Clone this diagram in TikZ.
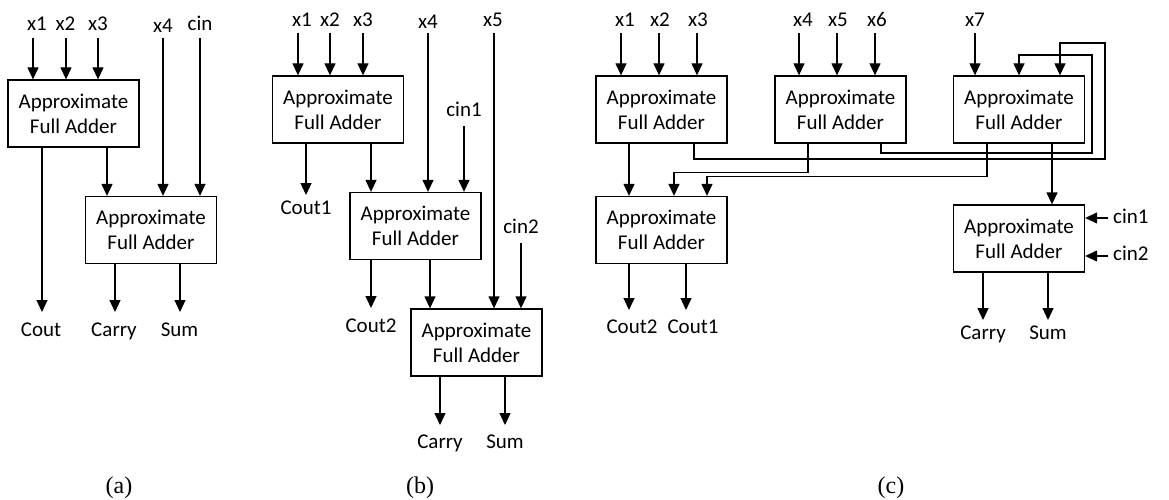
\documentclass[tikz,border=0pt]{standalone}
\usepackage{fontspec}
\setmainfont{Carlito}
\newfontfamily\capfont{Liberation Serif}
\usetikzlibrary{arrows.meta}
\begin{document}
\begin{tikzpicture}[x=1pt,y=-1pt,
  fa/.style={draw,line width=1.3pt,minimum width=131pt,minimum height=67pt,inner sep=0pt,align=center,font=\fontsize{21}{25}\selectfont},
  lbl/.style={inner sep=0pt,anchor=base,font=\fontsize{21}{25}\selectfont},
  captxt/.style={inner sep=0pt,anchor=base,font=\capfont\fontsize{24}{28}\selectfont},
  arr/.style={line width=1.3pt,-{Triangle[width=11pt,length=12pt]}}]
\path[use as bounding box] (0,0) rectangle (1169,500);

% ---------------- (a)
\node[fa] (a1) at (73.5,113.5) {Approximate\\Full Adder};
\node[fa] (a2) at (151,230) {Approximate\\Full Adder};
\node[lbl] (ax1) at (37,31) {x1};
\node[lbl] (ax2) at (65.5,31) {x2};
\node[lbl] (ax3) at (98,31) {x3};
\node[lbl] (ax4) at (163,33) {x4};
\node[lbl] (acin) at (200,31) {cin};
\coordinate (ax1s) at (33,38);
\coordinate (ax2s) at (66,38);
\coordinate (ax3s) at (98,38);
\coordinate (ax4s) at (163,38);
\coordinate (acins) at (200,38);
\foreach \s/\t in {ax1s/a1,ax2s/a1,ax3s/a1,ax4s/a2,acins/a2}
  \draw[arr] (\s) -- (\s |- \t.north);
\draw[arr] ([xshift=33.5pt]a1.south) -- ([xshift=33.5pt]a1.south |- a2.north);
\node[lbl] (acout) at (41,336) {Cout};
\node[lbl] (acarry) at (114,336) {Carry};
\node[lbl] (asum) at (179.5,336) {Sum};
\coordinate (acoutt) at (42,312);
\coordinate (acarryt) at (115,312);
\coordinate (asumt) at (180,312);
\draw[arr] (a1.south -| acoutt) -- (acoutt);
\draw[arr] (a2.south -| acarryt) -- (acarryt);
\draw[arr] (a2.south -| asumt) -- (asumt);
\node[captxt] (capa) at (119,493) {(a)};

% ---------------- (b)
\node[fa] (b1) at (338,109.5) {Approximate\\Full Adder};
\node[fa] (b2) at (415.5,226) {Approximate\\Full Adder};
\node[fa] (b3) at (476.5,342.5) {Approximate\\Full Adder};
\node[lbl] (bx1) at (302,27) {x1};
\node[lbl] (bx2) at (330,27) {x2};
\node[lbl] (bx3) at (363,27) {x3};
\node[lbl] (bx4) at (428,29) {x4};
\node[lbl] (bx5) at (493,27) {x5};
\node[lbl] (bcin1) at (464,117) {cin1};
\node[lbl] (bcin2) at (521,233) {cin2};
\coordinate (bx1s) at (298,33);
\coordinate (bx2s) at (330,33);
\coordinate (bx3s) at (363,33);
\coordinate (bx4s) at (428,33);
\coordinate (bx5s) at (494,33);
\coordinate (bcin1s) at (464,126);
\coordinate (bcin2s) at (521,243);
\foreach \s/\t in {bx1s/b1,bx2s/b1,bx3s/b1,bx4s/b2,bcin1s/b2,bx5s/b3,bcin2s/b3}
  \draw[arr] (\s) -- (\s |- \t.north);
\draw[arr] ([xshift=33pt]b1.south) -- ([xshift=33pt]b1.south |- b2.north);
\draw[arr] ([xshift=14.5pt]b2.south) -- ([xshift=14.5pt]b2.south |- b3.north);
\node[lbl] (bcout1) at (306,214) {Cout1};
\node[lbl] (bcout2) at (371,332) {Cout2};
\node[lbl] (bcarry) at (440,448) {Carry};
\node[lbl] (bsum) at (505,448) {Sum};
\coordinate (bcout1t) at (306,195);
\coordinate (bcout2t) at (371,308);
\coordinate (bcarryt) at (440,425);
\coordinate (bsumt) at (505,425);
\draw[arr] (b1.south -| bcout1t) -- (bcout1t);
\draw[arr] (b2.south -| bcout2t) -- (bcout2t);
\draw[arr] (b3.south -| bcarryt) -- (bcarryt);
\draw[arr] (b3.south -| bsumt) -- (bsumt);
\node[captxt] (capb) at (420,493) {(b)};

% ---------------- (c)
\node[fa] (c1) at (661.5,109.5) {Approximate\\Full Adder};
\node[fa] (c2) at (840.5,109.5) {Approximate\\Full Adder};
\node[fa] (c3) at (1019,109.5) {Approximate\\Full Adder};
\node[fa] (c4) at (661.5,230) {Approximate\\Full Adder};
\node[fa] (c5) at (1019,238.5) {Approximate\\Full Adder};
\node[lbl] (cx1) at (625,27) {x1};
\node[lbl] (cx2) at (660,27) {x2};
\node[lbl] (cx3) at (698,27) {x3};
\node[lbl] (cx4) at (803,27) {x4};
\node[lbl] (cx5) at (838,27) {x5};
\node[lbl] (cx6) at (877,27) {x6};
\node[lbl] (cx7) at (975,27) {x7};
\coordinate (cx1s) at (621,33);
\coordinate (cx2s) at (659,33);
\coordinate (cx3s) at (697,33);
\coordinate (cx4s) at (799,33);
\coordinate (cx5s) at (837,33);
\coordinate (cx6s) at (875,33);
\coordinate (cx7s) at (975,33);
\foreach \s/\t in {cx1s/c1,cx2s/c1,cx3s/c1,cx4s/c2,cx5s/c2,cx6s/c2,cx7s/c3}
  \draw[arr] (\s) -- (\s |- \t.north);
% feedback wires into c3
\coordinate (fa1) at (1105,159);
\coordinate (fb1) at (1105,43);
\coordinate (fa2) at (1092,153);
\coordinate (fb2) at (1092,55);
\draw[arr] ([xshift=32.5pt]c1.south) |- (fa1) -- (fb1) -| ([xshift=41pt]c3.north);
\draw[arr] ([xshift=40.5pt]c2.south) |- (fa2) -- (fb2) -| (c3.north);
% into c4
\draw[arr] ([xshift=-32.5pt]c1.south) -- ([xshift=-32.5pt]c1.south |- c4.north);
\draw[arr] ([xshift=-32.5pt]c2.south) -- ++(0,29) -| ([xshift=12.5pt]c4.north);
\draw[arr] ([xshift=-32pt]c3.south) -- ++(0,33) -| ([xshift=45.5pt]c4.north);
% into c5
\draw[arr] ([xshift=33pt]c3.south) -- ([xshift=33pt]c3.south |- c5.north);
\coordinate (ccin1s) at (1108,218);
\coordinate (ccin2s) at (1108,256);
\draw[arr] (ccin1s) -- (ccin1s -| c5.east);
\draw[arr] (ccin2s) -- (ccin2s -| c5.east);
\node[lbl,anchor=base west] (ccin1) at (1113,223) {cin1};
\node[lbl,anchor=base west] (ccin2) at (1113,260) {cin2};
% outputs
\node[lbl] (ccout2) at (632,333) {Cout2};
\node[lbl] (ccout1) at (693,333) {Cout1};
\node[lbl] (ccarry) at (983,339) {Carry};
\node[lbl] (csum) at (1048,339) {Sum};
\coordinate (ccout2t) at (629,310);
\coordinate (ccout1t) at (686,310);
\coordinate (ccarryt) at (983,320);
\coordinate (csumt) at (1048,320);
\draw[arr] (c4.south -| ccout2t) -- (ccout2t);
\draw[arr] (c4.south -| ccout1t) -- (ccout1t);
\draw[arr] (c5.south -| ccarryt) -- (ccarryt);
\draw[arr] (c5.south -| csumt) -- (csumt);
\node[captxt] (capc) at (891,493) {(c)};
\end{tikzpicture}
\end{document}
